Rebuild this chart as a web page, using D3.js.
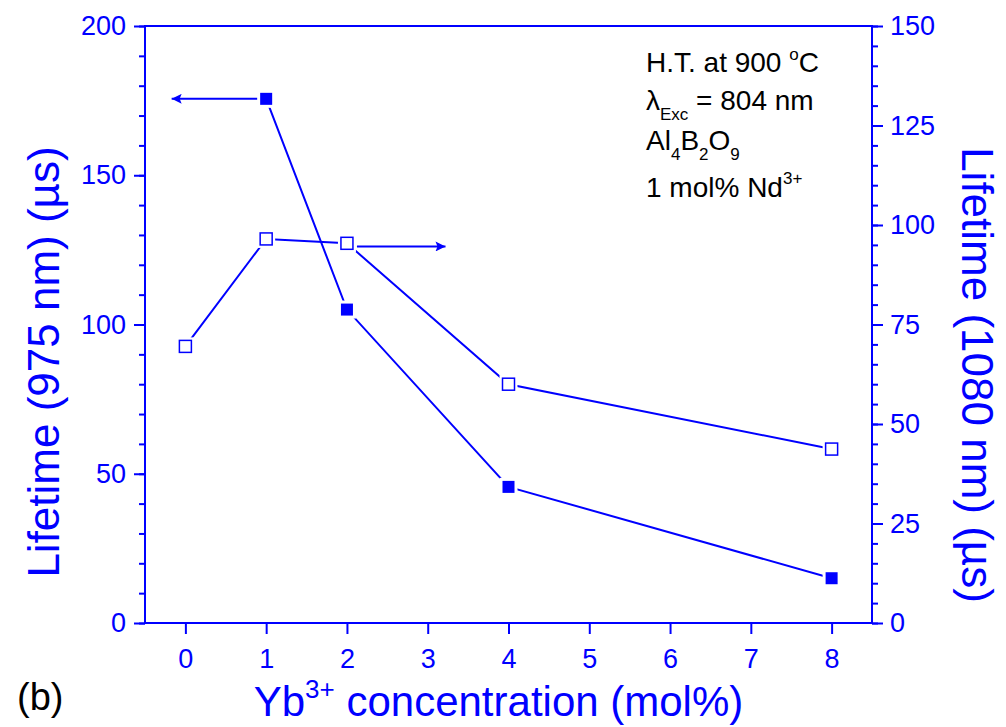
<!DOCTYPE html>
<html>
<head>
<meta charset="utf-8">
<script src="https://cdn.jsdelivr.net/npm/d3@7"></script>
<style>
  body { margin: 0; background: #fff; }
  svg text { font-family: "Liberation Sans", Arial, sans-serif; }
</style>
</head>
<body>
<div id="chart"></div>
<script>
// Yb3+ concentration (mol%)
const concentration = [0, 1, 2, 4, 8];
// Lifetime at 975 nm (left axis) -- no value at 0 mol%
const conc975 = [1, 2, 4, 8];
const life975 = [175.6, 105.0, 45.6, 15.0];
// Lifetime at 1080 nm (right axis)
const life1080 = [69.5, 96.5, 95.4, 60.0, 43.7];

const xTicks = [0, 1, 2, 3, 4, 5, 6, 7, 8];
const leftTicks = [0, 50, 100, 150, 200];
const rightTicks = [0, 25, 50, 75, 100, 125, 150];

const blue = '#0000ff';
const W = 1006, H = 727;
const margin = { top: 26, right: 134, bottom: 104, left: 145 };
const width = W - margin.left - margin.right;
const height = H - margin.top - margin.bottom;

const svg = d3.select('#chart').append('svg')
  .attr('width', W)
  .attr('height', H);

const g = svg.append('g')
  .attr('transform', `translate(${margin.left},${margin.top})`);

const x = d3.scaleLinear().domain([-0.5, 8.5]).range([0, width]);
const yL = d3.scaleLinear().domain([0, 200]).range([height, 0]);
const yR = d3.scaleLinear().domain([0, 150]).range([height, 0]);

// frame
g.append('rect')
  .attr('width', width)
  .attr('height', height)
  .attr('fill', 'none')
  .attr('stroke', blue)
  .attr('stroke-width', 2);

function styleAxis(sel) {
  sel.select('.domain').remove();
  sel.selectAll('line').attr('stroke', blue).attr('stroke-width', 2);
  sel.selectAll('text')
    .attr('fill', blue)
    .style('font-size', '27px');
}

// minor ticks
g.append('g')
  .call(d3.axisLeft(yL).tickValues(d3.range(0, 201, 10)).tickSize(6).tickFormat(''))
  .call(styleAxis);
g.append('g')
  .attr('transform', `translate(${width},0)`)
  .call(d3.axisRight(yR).tickValues(d3.range(0, 151, 5)).tickSize(6).tickFormat(''))
  .call(styleAxis);

// major ticks
g.append('g')
  .call(d3.axisLeft(yL).tickValues(leftTicks).tickSize(11).tickPadding(8))
  .call(styleAxis);
g.append('g')
  .attr('transform', `translate(${width},0)`)
  .call(d3.axisRight(yR).tickValues(rightTicks).tickSize(11).tickPadding(7))
  .call(styleAxis);
g.append('g')
  .attr('transform', `translate(0,${height})`)
  .call(d3.axisBottom(x).tickValues(xTicks).tickSize(11).tickPadding(15))
  .call(styleAxis);

// lines
const line975 = d3.line().x((d, i) => x(conc975[i])).y(d => yL(d));
const line1080 = d3.line().x((d, i) => x(concentration[i])).y(d => yR(d));

g.append('path').datum(life1080)
  .attr('d', line1080)
  .attr('fill', 'none')
  .attr('stroke', blue)
  .attr('stroke-width', 2);
g.append('path').datum(life975)
  .attr('d', line975)
  .attr('fill', 'none')
  .attr('stroke', blue)
  .attr('stroke-width', 2);

// arrows pointing to the matching axis
svg.append('defs').append('marker')
  .attr('id', 'head')
  .attr('viewBox', '0 0 10 10')
  .attr('refX', 10).attr('refY', 5)
  .attr('markerWidth', 15).attr('markerHeight', 10)
  .attr('markerUnits', 'userSpaceOnUse')
  .attr('orient', 'auto')
  .append('path')
  .attr('d', 'M0,0 L10,5 L0,10 L2,5 Z')
  .attr('fill', blue);

g.append('line')
  .attr('x1', x(1) - 7).attr('x2', x(-0.17))
  .attr('y1', yL(life975[0])).attr('y2', yL(life975[0]))
  .attr('stroke', blue).attr('stroke-width', 2)
  .attr('marker-end', 'url(#head)');
g.append('line')
  .attr('x1', x(2) + 10).attr('x2', x(3.22))
  .attr('y1', yR(94.6)).attr('y2', yR(94.6))
  .attr('stroke', blue).attr('stroke-width', 2)
  .attr('marker-end', 'url(#head)');

// white halos so lines stop short of the markers
const s = 12;
function halo(data, xs, ys) {
  g.append('g').selectAll('rect').data(data).join('rect')
    .attr('x', (d, i) => x(xs[i]) - 9)
    .attr('y', d => ys(d) - 9)
    .attr('width', 18).attr('height', 18)
    .attr('fill', '#fff');
}
halo(life975, conc975, yL);
halo(life1080, concentration, yR);

g.append('g').selectAll('rect').data(life1080).join('rect')
  .attr('x', (d, i) => x(concentration[i]) - s / 2)
  .attr('y', d => yR(d) - s / 2)
  .attr('width', s).attr('height', s)
  .attr('fill', '#fff')
  .attr('stroke', blue)
  .attr('stroke-width', 1.5);

g.append('g').selectAll('rect').data(life975).join('rect')
  .attr('x', (d, i) => x(conc975[i]) - s / 2)
  .attr('y', d => yL(d) - s / 2)
  .attr('width', s).attr('height', s)
  .attr('fill', blue);

// axis titles
svg.append('text')
  .attr('transform', `translate(962,375) rotate(90)`)
  .attr('text-anchor', 'middle')
  .attr('fill', blue)
  .style('font-size', '44px')
  .text('Lifetime (1080 nm) (\u00b5s)');

svg.append('text')
  .attr('transform', `translate(59,362) rotate(-90)`)
  .attr('text-anchor', 'middle')
  .attr('fill', blue)
  .style('font-size', '44px')
  .text('Lifetime (975 nm) (\u00b5s)');

const xt = svg.append('text')
  .attr('x', margin.left + width / 2 - 10)
  .attr('y', 716)
  .attr('text-anchor', 'middle')
  .attr('fill', blue)
  .style('font-size', '42px');
xt.append('tspan').text('Yb');
xt.append('tspan').attr('dy', -18).style('font-size', '26px').text('3+');
xt.append('tspan').attr('dy', 18).text(' concentration (mol%)');

svg.append('text')
  .attr('x', 17).attr('y', 710)
  .attr('fill', '#000')
  .style('font-size', '38px')
  .text('(b)');

// annotation
const ann = svg.append('g').attr('fill', '#000').style('font-size', '28px');
const t1 = ann.append('text').attr('x', 646).attr('y', 72);
t1.append('tspan').text('H.T. at 900 ');
t1.append('tspan').attr('dy', -12).style('font-size', '17px').text('o');
t1.append('tspan').attr('dy', 12).text('C');

const t2 = ann.append('text').attr('x', 646).attr('y', 110);
t2.append('tspan').text('\u03bb');
t2.append('tspan').attr('dy', 10).style('font-size', '17px').text('Exc');
t2.append('tspan').attr('dy', -10).text(' = 804 nm');

const t3 = ann.append('text').attr('x', 646).attr('y', 150);
t3.append('tspan').text('Al');
t3.append('tspan').attr('dy', 10).style('font-size', '17px').text('4');
t3.append('tspan').attr('dy', -10).text('B');
t3.append('tspan').attr('dy', 10).style('font-size', '17px').text('2');
t3.append('tspan').attr('dy', -10).text('O');
t3.append('tspan').attr('dy', 10).style('font-size', '17px').text('9');

const t4 = ann.append('text').attr('x', 646).attr('y', 197);
t4.append('tspan').text('1 mol% Nd');
t4.append('tspan').attr('dy', -13).style('font-size', '17px').text('3+');
</script>
</body>
</html>
